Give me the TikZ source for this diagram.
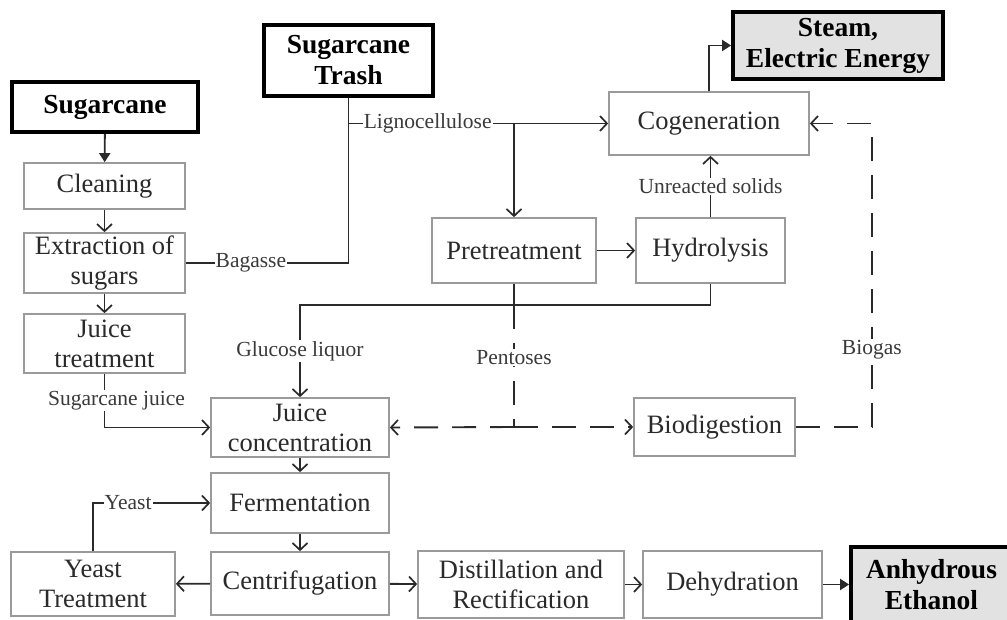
\documentclass[tikz,border=0pt]{standalone}
\usepackage{fontspec}
\setmainfont{Liberation Serif}
\usetikzlibrary{arrows.meta}
\definecolor{boxline}{HTML}{9A9A9A}
\definecolor{ink}{HTML}{2A2A2A}
\definecolor{lblink}{HTML}{3A3A3A}
\definecolor{prodfill}{HTML}{E2E2E2}
\tikzset{
  stage/.style={draw=boxline, line width=1.7pt, fill=white, text=ink, inner sep=0pt,
    align=center, font=\fontsize{26.5}{30}\selectfont},
  source/.style={draw=black, line width=3.8pt, fill=white, text=black, inner sep=0pt,
    align=center, font=\fontsize{27.5}{31}\selectfont\bfseries},
  product/.style={source, fill=prodfill},
  flow/.style={draw=ink, line width=1.9pt},
  arr/.style={flow, -{Straight Barb[length=7pt,width=15pt,line width=1.7pt]}},
  farr/.style={flow, -{Triangle[length=9pt,width=11pt]}},
  dsh/.style={flow, dash pattern=on 24pt off 14pt},
  lbl/.style={fill=white, text=lblink, inner sep=1pt, font=\fontsize{21.5}{24}\selectfont},
}
\begin{document}
\begin{tikzpicture}[x=1pt, y=-1pt]
\useasboundingbox (0,0) rectangle (1007,620);

% raw materials and products
\node[source, minimum width=186pt, minimum height=50pt] (sugar) at (105,107) {Sugarcane};
\node[source, minimum width=169pt, minimum height=71pt] (trash) at (348.5,60.5) {Sugarcane\\Trash};
\node[product, minimum width=210pt, minimum height=67pt] (steam) at (838,45.5) {Steam,\\Electric Energy};
\node[product, minimum width=161pt, minimum height=75pt] (anhyd) at (931.5,584.5) {Anhydrous\\Ethanol};

% first generation line
\node[stage, minimum width=161pt, minimum height=46pt] (clean) at (104.5,186) {Cleaning};
\node[stage, minimum width=161pt, minimum height=60pt] (extract) at (104.5,263) {Extraction of\\sugars};
\node[stage, minimum width=161pt, minimum height=59pt] (jtreat) at (104.5,343.5) {Juice\\treatment};
\node[stage, minimum width=178pt, minimum height=59pt] (jconc) at (300,427.5) {Juice\\concentration};
\node[stage, minimum width=178pt, minimum height=60pt] (ferm) at (300,503) {Fermentation};
\node[stage, minimum width=178pt, minimum height=63pt] (centr) at (300,583.5) {Centrifugation};
\node[stage, minimum width=164pt, minimum height=64pt] (ytreat) at (93,584) {Yeast\\Treatment};
\node[stage, minimum width=206pt, minimum height=67pt] (distil) at (521,584.5) {Distillation and\\Rectification};
\node[stage, minimum width=179pt, minimum height=67pt] (dehyd) at (732.5,584.5) {Dehydration};

% second generation line
\node[stage, minimum width=164pt, minimum height=65pt] (pretr) at (514,250.5) {Pretreatment};
\node[stage, minimum width=149pt, minimum height=65pt] (hydro) at (710.5,250.5) {Hydrolysis};
\node[stage, minimum width=200pt, minimum height=63pt] (cogen) at (709,123.5) {Cogeneration};
\node[stage, minimum width=161pt, minimum height=58pt] (biod) at (714.5,427) {Biodigestion};

% helper points
\coordinate (lig) at (trash.south |- cogen.west);
\coordinate (junction) at (pretr.south |- 0,305);
\coordinate (pent) at (pretr.south |- 0,427);

% main sugar route
\draw[farr] (sugar) -- (clean);
\draw[arr] (clean) -- (extract);
\draw[arr] (extract) -- (jtreat);
\draw[arr] (jtreat.south) |- node[lbl, pos=0.25, xshift=12pt] {Sugarcane juice} (jconc.west);
\draw[arr] (jconc) -- (ferm);
\draw[arr] (ferm) -- (centr);
\draw[arr] (centr) -- (ytreat);
\draw[arr] (ytreat.north) |- node[lbl, pos=0.65] {Yeast} (ferm.west);
\draw[arr] (centr) -- (distil);
\draw[arr] (distil) -- (dehyd);
\draw[farr] (dehyd) -- (anhyd);

% lignocellulosic route
\draw[flow] (extract.east) -| node[lbl, pos=0.2] {Bagasse} (trash.south);
\draw[arr] (lig) -- node[lbl, pos=0.305] {Lignocellulose} (cogen.west);
\draw[arr] (pretr.north |- cogen.west) -- (pretr.north);
\draw[arr] (pretr) -- (hydro);
\draw[arr] (hydro.north) -- node[lbl] {Unreacted solids} (hydro.north |- cogen.south);
\draw[farr] (cogen.north) |- (steam.west);
\draw[arr] (hydro.south) -- (hydro.south |- junction) -| node[lbl, pos=0.75] {Glucose liquor} (jconc.north);
\draw[flow] (pretr.south) -- (junction);

% pentose and biogas streams
\draw[dsh] (junction) -- node[lbl, pos=0.43] {Pentoses} (pent);
\draw[dsh, arr] (pent) -- (jconc.east);
\draw[dsh, arr] (pent) -- (biod.west);
\draw[dsh, arr] (biod.east) -- ++(76,0) |- node[lbl, pos=0.127] {Biogas} (cogen.east);
\end{tikzpicture}
\end{document}
